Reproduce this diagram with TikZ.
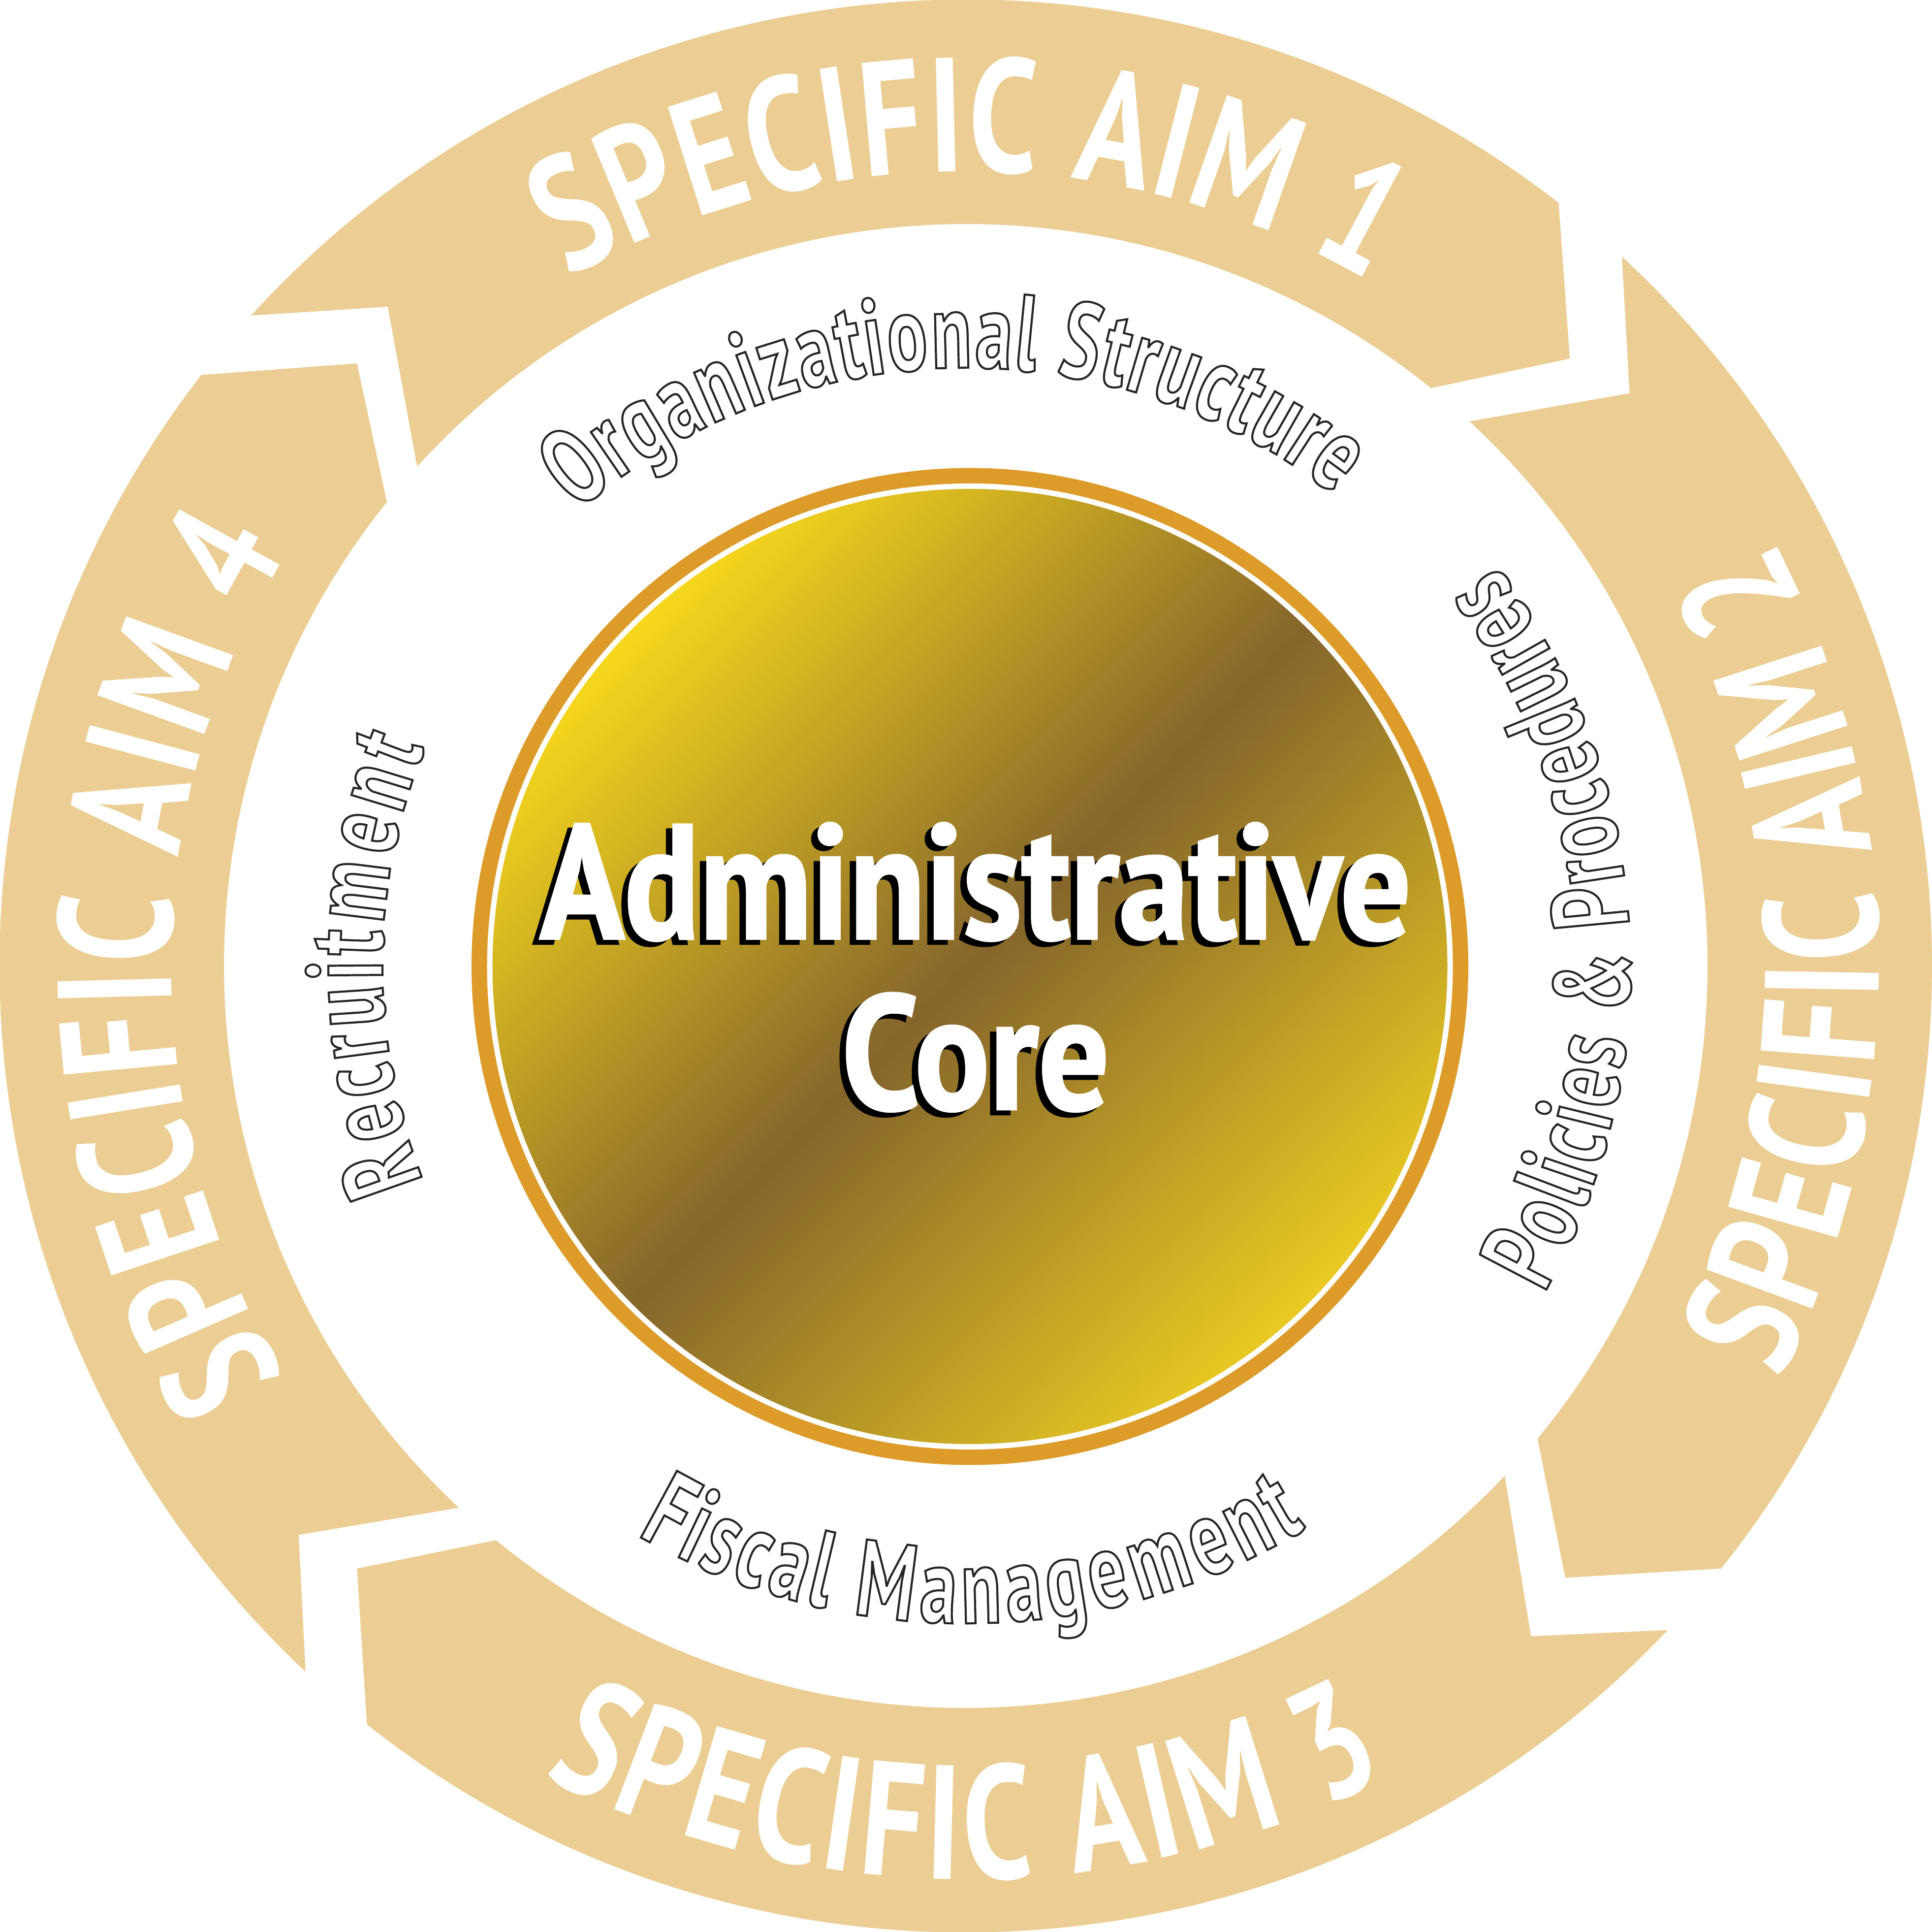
\documentclass[tikz,border=0pt]{standalone}
\usepackage{fontspec}
\usetikzlibrary{decorations.text}
\newfontfamily\ringfont[FakeStretch=0.76]{PT Sans}
\newfontfamily\labfont[FakeStretch=0.68]{PT Sans}
\newfontfamily\corefont[FakeStretch=0.72,FakeBold=1.2]{PT Sans}
\definecolor{aimtan}{HTML}{ECCE95}
\definecolor{ringorange}{HTML}{DD9B2A}
\definecolor{goldA}{HTML}{F7D71D}
\definecolor{goldB}{HTML}{85652B}
\definecolor{goldC}{HTML}{E9C922}
\pgfdeclarehorizontalshading{goldshade}{100bp}{color(0bp)=(goldA); color(25bp)=(goldA); color(50bp)=(goldB); color(75bp)=(goldC); color(100bp)=(goldC)}
% white glyph, dark stroked outline (fill+stroke render mode)
\newcommand\outlchar[1]{\special{pdf:literal direct 2 Tr 0.42 w 0.15 G}#1\special{pdf:literal direct 0 Tr}}
\newcommand\ringstyle{\ringfont\bfseries\fontsize{33pt}{33pt}\selectfont}
\newcommand\labstyle{\labfont\bfseries\fontsize{22pt}{22pt}\selectfont}
\newcommand\corestyle{\corefont\bfseries\fontsize{30pt}{30pt}\selectfont}
\newcommand\aimseg[2]{% #1 tail angle, #2 head angle
  \fill[aimtan] (#1:196.3pt) arc[start angle=#1, end angle=#2, radius=196.3pt]
    -- ({#2-7.0}:174pt) -- ({#2-1.0}:150.7pt)
    arc[start angle={#2-1.0}, end angle=#1, radius=150.7pt]
    -- ({#1-6.45}:178.1pt) -- cycle;}
\tikzset{
  aimtext/.style={decorate, decoration={text along path, text={|\ringstyle|#1}, text align={fit to path}, text color=white}},
  labtext/.style={decorate, decoration={text effects along path, text={#1},
     text effects/.cd, text along path, fit text to path,
       every character/.style={text=white, font=\labstyle, inner sep=0pt, outer sep=0pt},
       character command=\outlchar}},
}
\begin{document}
\newlength\admW \newlength\admH
\settowidth\admW{\corestyle Administrative}
\settoheight\admH{\corestyle H}
\pgfmathsetmacro\csx{177pt/\admW}
\pgfmathsetmacro\csy{23.25pt/\admH}
\begin{tikzpicture}
\fill[white] (-196.2pt,-196.2pt) rectangle (196.3pt,196.2pt);
\useasboundingbox (-196.2pt,-196.2pt) rectangle (196.3pt,196.2pt);
% ring of four arrow segments
\aimseg{137.7}{52.15}
\aimseg{47.23}{-38.57}
\aimseg{-43.4}{-128.3}
\aimseg{226.9}{142.3}
\path[aimtext={SPECIFIC AIM 1}] (120:161.4pt) arc[start angle=120, end angle=59.5, radius=161.4pt];
\path[aimtext={SPECIFIC AIM 2}] (-26.9:185.5pt) arc[start angle=-26.9, end angle=27.9, radius=185.5pt];
\path[aimtext={SPECIFIC AIM 3}] (-117.5:185.5pt) arc[start angle=-117.5, end angle=-62.5, radius=185.5pt];
\path[aimtext={SPECIFIC AIM 4}] (211.1:161.4pt) arc[start angle=211.1, end angle=148.6, radius=161.4pt];
% central disc
\coordinate (cc) at (0.85pt,-0.1pt);
\fill[ringorange] (cc) circle (101.25pt);
\fill[white] (cc) circle (98.1pt);
\shade[shading=goldshade, shading angle=-45] (cc) circle (97pt);
\node[anchor=base, inner sep=0, text=black] (admshadow) at (0.7pt,4.5pt) {\scalebox{\csx}[\csy]{\corestyle Administrative}};
\node[anchor=base, inner sep=0, text=white] (adm) at (2.0pt,5.5pt) {\scalebox{\csx}[\csy]{\corestyle Administrative}};
\node[anchor=base, inner sep=0, text=black] (coreshadow) at (0.7pt,-30.15pt) {\scalebox{\csx}[\csy]{\corestyle Core}};
\node[anchor=base, inner sep=0, text=white] (core) at (2.0pt,-29.15pt) {\scalebox{\csx}[\csy]{\corestyle Core}};
% outlined labels around the disc
\path[labtext={Organizational Structure}] (130.5:121.5pt) arc[start angle=130.5, end angle=52, radius=121.5pt];
\path[labtext={Policies \& Procedures}] (-29.5:135pt) arc[start angle=-29.5, end angle=37, radius=135pt];
\path[labtext={Fiscal Management}] (-120:133.5pt) arc[start angle=-120, end angle=-58.8, radius=133.5pt];
\path[labtext={Recruitment}] (201.6:118.5pt) arc[start angle=201.6, end angle=158, radius=118.5pt];
\end{tikzpicture}
\end{document}
